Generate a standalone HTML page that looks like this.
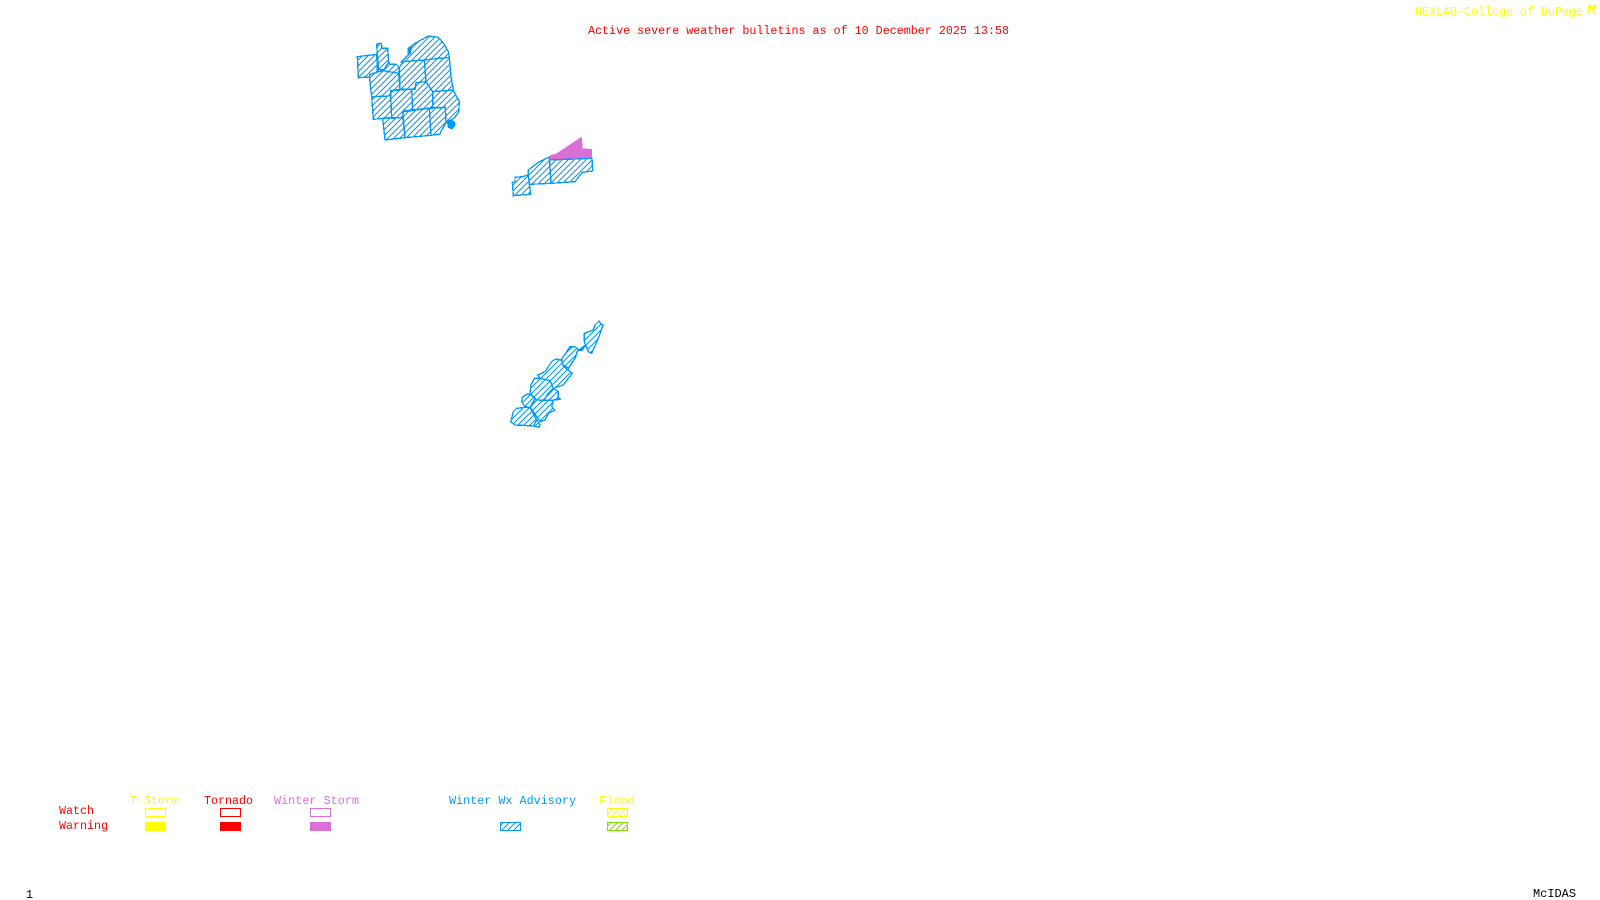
<!DOCTYPE html>
<html><head><meta charset="utf-8"><style>
html,body{margin:0;padding:0;background:#fff;width:1600px;height:900px;overflow:hidden}
svg{display:block}
text{font-family:"Liberation Mono",monospace;font-size:12px;white-space:pre}
</style></head><body>
<svg width="1600" height="900" viewBox="0 0 1600 900" xmlns="http://www.w3.org/2000/svg">
<defs>
<pattern id="hz" patternUnits="userSpaceOnUse" width="18" height="18"><path d="M-3 21L21 -3M-3 3L3 -3M15 21L21 15" stroke="#0099ff" stroke-width="3" fill="none" shape-rendering="crispEdges"/></pattern>
<pattern id="hb" patternUnits="userSpaceOnUse" width="6" height="6"><path d="M-1 7L7 -1M-1 1L1 -1M5 7L7 5" stroke="#0099ff" stroke-width="1" fill="none" shape-rendering="crispEdges"/></pattern>
<pattern id="hy" patternUnits="userSpaceOnUse" width="6" height="6"><path d="M-1 7L7 -1M-1 1L1 -1M5 7L7 5" stroke="#ffff00" stroke-width="1" fill="none" shape-rendering="crispEdges"/></pattern>
<pattern id="hg" patternUnits="userSpaceOnUse" width="6" height="6"><path d="M-1 7L7 -1M-1 1L1 -1M5 7L7 5" stroke="#7fdf00" stroke-width="1" fill="none" shape-rendering="crispEdges"/></pattern>
</defs>

<text x="588" y="34" fill="#ff0000" textLength="421" lengthAdjust="spacingAndGlyphs">Active severe weather bulletins as of 10 December 2025 13:58</text>
<text x="1415" y="15" fill="#ffff00" textLength="168" lengthAdjust="spacingAndGlyphs">NEXLAB-College of DuPage</text>
<path d="M1588.5 14V5.5H1595.5V8M1589 6L1595 14M1592 10L1595 7" stroke="#ffff00" stroke-width="1.5" fill="none" shape-rendering="crispEdges"/>

<g transform="translate(340,30) scale(0.33333)" fill="url(#hz)" stroke="#0099ff" stroke-width="4" stroke-linejoin="miter" shape-rendering="crispEdges">
<polygon points="52,80 110,73 112,120 115,120 116,125 90,133 88,141 55,143"/>
<polygon points="110,42 124,40 126,55 143,55 146,96 132,120 116,118 112,75"/>
<polygon points="146,96 150,103 168,102 178,112 176,130 130,122"/>
<polygon points="88,141 90,133 115,125 130,122 176,130 180,178 152,182 152,198 95,200"/>
<polygon points="178,112 190,95 253,90 258,155 228,158 225,178 180,178"/>
<polygon points="185,95 205,75 205,55 225,40 265,18 295,22 312,42 325,65 328,82 253,90 190,95"/>
<polygon points="253,90 328,82 333,140 340,180 278,185 258,155"/>
<polygon points="228,158 258,155 278,185 278,233 218,240 215,178 225,178"/>
<polygon points="152,182 215,178 218,240 190,243 188,262 155,265 152,198"/>
<polygon points="95,200 152,198 155,262 128,265 100,268"/>
<polygon points="278,185 340,180 350,200 358,215 356,245 345,262 330,272 318,278 316,232 278,233"/>
<polygon points="128,265 188,262 195,323 135,330"/>
<polygon points="188,245 268,235 273,316 195,323"/>
<polygon points="268,235 316,232 318,278 305,300 300,312 273,316"/>
<polygon points="322,275 332,270 342,275 345,285 336,296 326,292" fill="#0099ff"/>
<polygon points="204,58 214,52 210,72 205,72" fill="#0099ff"/>
</g>

<g transform="translate(495,125) scale(0.33333)" fill="url(#hz)" stroke="#0099ff" stroke-width="4" shape-rendering="crispEdges">
<polygon points="163,92 185,85 260,35 263,70 291,72 291,100 163,107" fill="#da70d6" stroke="none"/>
<polygon points="52,172 60,170 60,157 82,155 100,150 103,178 107,208 55,212"/>
<polygon points="100,135 130,112 163,96 168,175 103,178 100,150"/>
<polygon points="163,105 291,100 293,138 262,142 240,170 168,175"/>
</g>

<g transform="translate(495,310) scale(0.33333)" fill="url(#hz)" stroke="#0099ff" stroke-width="4" shape-rendering="crispEdges">
<polygon points="268,70 295,60 300,45 312,33 318,42 324,45 312,80 290,130 280,125 272,105 268,95"/>
<polygon points="215,125 225,110 240,110 252,120 272,105 262,120 248,122 240,145 220,175 205,165 198,150"/>
<polygon points="170,155 182,147 200,150 205,168 222,182 232,190 220,205 205,225 175,235 165,212 135,205 128,195 150,185"/>
<polygon points="118,205 135,205 165,212 175,235 145,270 125,270 105,250 108,225"/>
<polygon points="175,235 190,245 190,265 197,268 175,270 145,272 160,250"/>
<polygon points="82,262 95,253 105,252 120,265 105,292 90,290 80,275"/>
<polygon points="55,305 65,295 90,292 105,292 125,330 115,348 60,345 47,335"/>
<polygon points="125,270 175,272 170,290 180,300 160,310 150,330 135,335 115,305 105,292"/>
<polygon points="115,348 125,330 135,345 132,352"/>
</g>

<text x="130" y="804" fill="#ffff00" textLength="49" lengthAdjust="spacingAndGlyphs">T-Storm</text>
<text x="204" y="804" fill="#ff0000" textLength="49" lengthAdjust="spacingAndGlyphs">Tornado</text>
<text x="274" y="804" fill="#da70d6" textLength="85" lengthAdjust="spacingAndGlyphs">Winter Storm</text>
<text x="449" y="804" fill="#0099ff" textLength="127" lengthAdjust="spacingAndGlyphs">Winter Wx Advisory</text>
<text x="599" y="804" fill="#ffff00" textLength="36" lengthAdjust="spacingAndGlyphs">Flood</text>
<text x="59" y="814" fill="#ff0000" textLength="35" lengthAdjust="spacingAndGlyphs">Watch</text>
<text x="59" y="829" fill="#ff0000" textLength="49" lengthAdjust="spacingAndGlyphs">Warning</text>

<g shape-rendering="crispEdges" stroke-width="1">
<rect x="145.5" y="808.5" width="20" height="8" fill="none" stroke="#ffff00"/>
<rect x="220.5" y="808.5" width="20" height="8" fill="none" stroke="#ff0000"/>
<rect x="310.5" y="808.5" width="20" height="8" fill="none" stroke="#da70d6"/>
<rect x="607.5" y="808.5" width="20" height="8" fill="url(#hy)" stroke="#ffff00"/>
<rect x="145" y="822" width="21" height="9" fill="#ffff00"/>
<rect x="220" y="822" width="21" height="9" fill="#ff0000"/>
<rect x="310" y="822" width="21" height="9" fill="#da70d6"/>
<rect x="500.5" y="822.5" width="20" height="8" fill="url(#hb)" stroke="#0099ff"/>
<rect x="607.5" y="822.5" width="20" height="8" fill="url(#hg)" stroke="#7fdf00"/>
</g>

<text x="26" y="898" fill="#000000" textLength="7" lengthAdjust="spacingAndGlyphs">1</text>
<text x="1533" y="897" fill="#000000" textLength="43" lengthAdjust="spacingAndGlyphs">McIDAS</text>
</svg>
</body></html>
